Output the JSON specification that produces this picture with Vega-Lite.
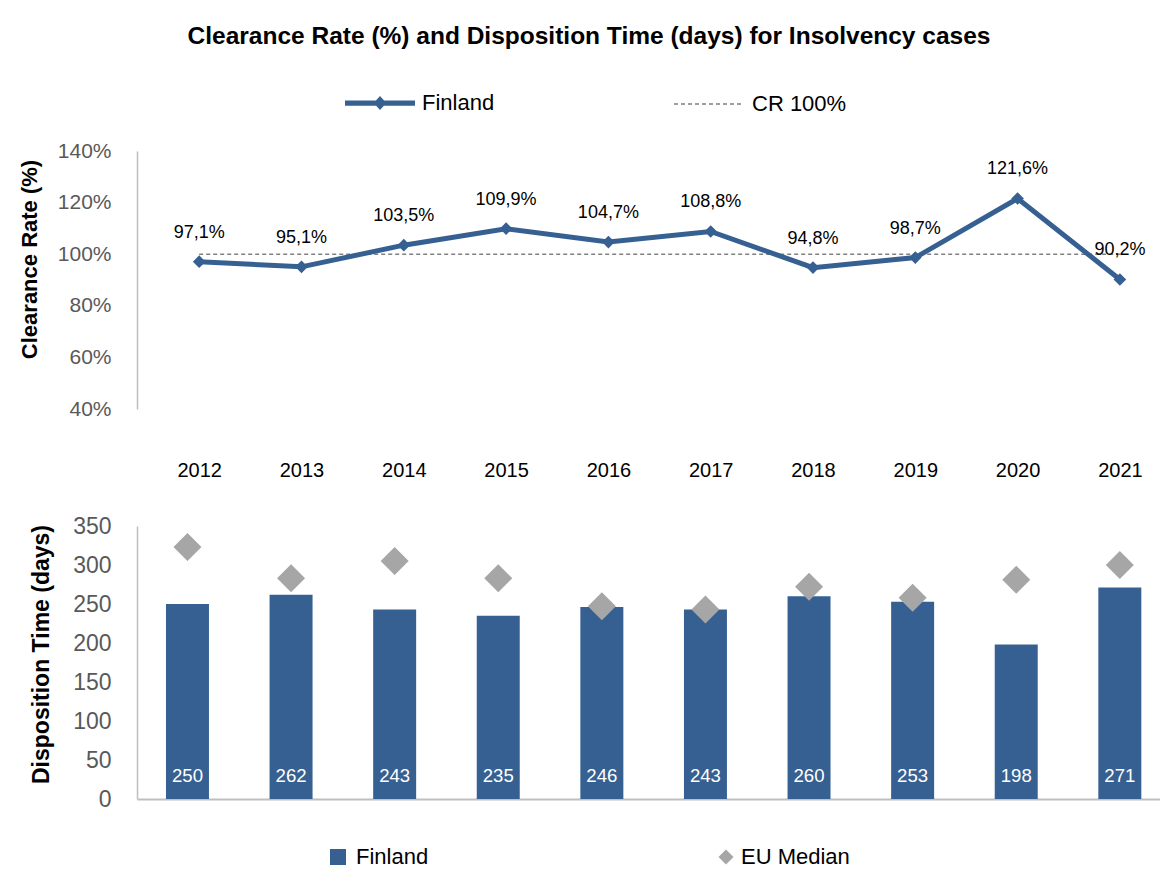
{
  "$schema": "https://vega.github.io/schema/vega-lite/v6.json",
  "padding": {"left": 18, "top": 23, "right": 0, "bottom": 0},
  "title": {"text": "Clearance Rate (%) and Disposition Time (days) for Insolvency cases", "fontSize": 24.5, "fontWeight": "bold", "font": "Liberation Sans", "color": "#000000", "anchor": "middle", "offset": 19},
  "config": {
    "font": "Liberation Sans",
    "view": {"stroke": null},
    "locale": {"number": {"decimal": ",", "thousands": ".", "grouping": [3], "currency": ["", " €"]}}
  },
  "bounds": "flush",
  "spacing": 117,
  "datasets": {
    "d": [
      {"year": "2012", "clearance": 0.971, "cr": 1, "dt": 250, "eu": 323},
      {"year": "2013", "clearance": 0.951, "cr": 1, "dt": 262, "eu": 283},
      {"year": "2014", "clearance": 1.035, "cr": 1, "dt": 243, "eu": 305},
      {"year": "2015", "clearance": 1.099, "cr": 1, "dt": 235, "eu": 283},
      {"year": "2016", "clearance": 1.047, "cr": 1, "dt": 246, "eu": 247},
      {"year": "2017", "clearance": 1.088, "cr": 1, "dt": 243, "eu": 243},
      {"year": "2018", "clearance": 0.948, "cr": 1, "dt": 260, "eu": 272},
      {"year": "2019", "clearance": 0.987, "cr": 1, "dt": 253, "eu": 258},
      {"year": "2020", "clearance": 1.216, "cr": 1, "dt": 198, "eu": 281},
      {"year": "2021", "clearance": 0.902, "cr": 1, "dt": 271, "eu": 300}
    ]
  },
  "resolve": {"scale": {"color": "independent"}, "legend": {"color": "independent"}},
  "vconcat": [
    {
      "width": 1023,
      "height": 258,
      "data": {"name": "d"},
      "resolve": {"scale": {"color": "independent"}, "legend": {"color": "independent"}},
      "layer": [
        {
          "mark": {"type": "line", "strokeDash": [4, 3], "strokeWidth": 1.5},
          "encoding": {
            "x": {"field": "year", "type": "ordinal", "scale": {"paddingInner": 0.585, "paddingOuter": 0.23, "align": 0.608}, "axis": {"title": null, "domain": false, "ticks": false, "tickSize": 0, "labelAngle": 0, "labelPadding": 51, "labelFontSize": 20, "labelColor": "#000000", "labelBaseline": "top"}},
            "y": {"field": "cr", "type": "quantitative", "title": "Clearance Rate (%)", "scale": {"domain": [0.4, 1.4], "nice": false, "zero": false}, "axis": {"values": [0.4, 0.6, 0.8, 1.0, 1.2, 1.4], "format": ".0%", "labelOverlap": false, "grid": false, "ticks": false, "tickSize": 0, "domainColor": "#bfbfbf", "domainWidth": 1.5, "labelFontSize": 21, "labelColor": "#595959", "labelPadding": 26, "titleFontSize": 22, "titleFontWeight": "bold", "titleColor": "#000000", "titleX": -108, "titleY": 108, "titleAngle": 270, "titleAlign": "center", "titleBaseline": "middle"}},
            "color": {"datum": "CR 100%", "scale": {"range": ["#808080"]}, "legend": {"title": null, "orient": "none", "legendX": 536, "legendY": -82, "direction": "horizontal", "padding": 0, "symbolType": "stroke", "symbolSize": 4624, "symbolDash": [4, 3], "symbolStrokeWidth": 1.5, "symbolStrokeColor": "#808080", "labelFontSize": 22, "labelColor": "#000000", "labelOffset": 9}}
          }
        },
        {
          "mark": {"type": "line", "strokeWidth": 5},
          "encoding": {
            "x": {"field": "year", "type": "ordinal", "scale": {"paddingInner": 0.585, "paddingOuter": 0.23, "align": 0.608}, "axis": {"title": null, "domain": false, "ticks": false, "tickSize": 0, "labelAngle": 0, "labelPadding": 51, "labelFontSize": 20, "labelColor": "#000000", "labelBaseline": "top"}},
            "y": {"field": "clearance", "type": "quantitative", "title": "Clearance Rate (%)", "scale": {"domain": [0.4, 1.4], "nice": false, "zero": false}, "axis": {"values": [0.4, 0.6, 0.8, 1.0, 1.2, 1.4], "format": ".0%", "labelOverlap": false, "grid": false, "ticks": false, "tickSize": 0, "domainColor": "#bfbfbf", "domainWidth": 1.5, "labelFontSize": 21, "labelColor": "#595959", "labelPadding": 26, "titleFontSize": 22, "titleFontWeight": "bold", "titleColor": "#000000", "titleX": -108, "titleY": 108, "titleAngle": 270, "titleAlign": "center", "titleBaseline": "middle"}},
            "color": {"datum": "Finland", "scale": {"range": ["#366092"]}, "legend": {"title": null, "orient": "none", "legendX": 208, "legendY": -83, "direction": "horizontal", "padding": 0, "symbolType": "M-1,-0.075L1,-0.075L1,0.075L-1,0.075Z M-0.18,0L0,-0.2L0.18,0L0,0.2Z", "symbolSize": 4900, "symbolFillColor": "#366092", "symbolStrokeWidth": 0, "labelFontSize": 22, "labelColor": "#000000", "labelOffset": 7, "encode": {"symbols": {"update": {"fill": {"value": "#366092"}, "stroke": {"value": "transparent"}, "strokeWidth": {"value": 0}}}}}}
          }
        },
        {
          "mark": {"type": "point", "shape": "diamond", "filled": true, "size": 160, "color": "#366092", "opacity": 1},
          "encoding": {
            "x": {"field": "year", "type": "ordinal"},
            "y": {"field": "clearance", "type": "quantitative", "title": "Clearance Rate (%)"}
          }
        },
        {
          "mark": {"type": "text", "fontSize": 18, "color": "#000000", "baseline": "middle", "dy": -29},
          "encoding": {
            "x": {"field": "year", "type": "ordinal"},
            "y": {"field": "clearance", "type": "quantitative", "title": "Clearance Rate (%)"},
            "text": {"field": "clearance", "type": "quantitative", "format": ".1%"}
          }
        }
      ]
    },
    {
      "width": 1023,
      "height": 273,
      "data": {"name": "d"},
      "resolve": {"scale": {"color": "independent"}, "legend": {"color": "independent"}},
      "layer": [
        {
          "mark": {"type": "bar"},
          "encoding": {
            "x": {"field": "year", "type": "ordinal", "scale": {"paddingInner": 0.585, "paddingOuter": 0.23, "align": 0.608}, "axis": {"title": null, "labels": false, "ticks": false, "domainColor": "#bfbfbf", "domainWidth": 2}},
            "y": {"field": "dt", "type": "quantitative", "title": "Disposition Time (days)", "scale": {"domain": [0, 350], "nice": false}, "axis": {"values": [0, 50, 100, 150, 200, 250, 300, 350], "labelOverlap": false, "labelSeparation": 0, "grid": false, "ticks": false, "tickSize": 0, "domainColor": "#bfbfbf", "domainWidth": 1.5, "labelFontSize": 23, "labelColor": "#595959", "labelPadding": 26, "titleFontSize": 23, "titleFontWeight": "bold", "titleColor": "#000000", "titleX": -96, "titleY": 128, "titleAngle": 270, "titleAlign": "center", "titleBaseline": "middle"}},
            "color": {"datum": "Finland", "scale": {"range": ["#366092"]}, "legend": {"title": null, "orient": "none", "legendX": 190, "legendY": 320, "direction": "horizontal", "padding": 0, "symbolType": "square", "symbolSize": 256, "symbolStrokeWidth": 0, "labelFontSize": 22, "labelColor": "#000000", "labelOffset": 7}}
          }
        },
        {
          "mark": {"type": "point", "shape": "diamond", "filled": true, "size": 784, "opacity": 1},
          "encoding": {
            "x": {"field": "year", "type": "ordinal", "scale": {"paddingInner": 0.585, "paddingOuter": 0.23, "align": 0.608}, "axis": {"title": null, "labels": false, "ticks": false, "domainColor": "#bfbfbf", "domainWidth": 2}},
            "y": {"field": "eu", "type": "quantitative", "title": "Disposition Time (days)", "scale": {"domain": [0, 350], "nice": false}, "axis": {"values": [0, 50, 100, 150, 200, 250, 300, 350], "labelOverlap": false, "labelSeparation": 0, "grid": false, "ticks": false, "tickSize": 0, "domainColor": "#bfbfbf", "domainWidth": 1.5, "labelFontSize": 23, "labelColor": "#595959", "labelPadding": 26, "titleFontSize": 23, "titleFontWeight": "bold", "titleColor": "#000000", "titleX": -96, "titleY": 128, "titleAngle": 270, "titleAlign": "center", "titleBaseline": "middle"}},
            "color": {"datum": "EU Median", "scale": {"range": ["#a6a6a6"]}, "legend": {"title": null, "orient": "none", "legendX": 578, "legendY": 320, "direction": "horizontal", "padding": 0, "symbolType": "diamond", "symbolSize": 225, "symbolStrokeWidth": 0, "labelFontSize": 22, "labelColor": "#000000", "labelOffset": 4}}
          }
        },
        {
          "mark": {"type": "text", "fontSize": 18.6, "color": "#ffffff", "baseline": "middle", "dy": -23},
          "encoding": {
            "x": {"field": "year", "type": "ordinal", "scale": {"paddingInner": 0.585, "paddingOuter": 0.23, "align": 0.608}, "axis": {"title": null, "labels": false, "ticks": false, "domainColor": "#bfbfbf", "domainWidth": 2}},
            "y": {"datum": 0, "type": "quantitative", "title": "Disposition Time (days)", "scale": {"domain": [0, 350], "nice": false}, "axis": {"values": [0, 50, 100, 150, 200, 250, 300, 350], "labelOverlap": false, "labelSeparation": 0, "grid": false, "ticks": false, "tickSize": 0, "domainColor": "#bfbfbf", "domainWidth": 1.5, "labelFontSize": 23, "labelColor": "#595959", "labelPadding": 26, "titleFontSize": 23, "titleFontWeight": "bold", "titleColor": "#000000", "titleX": -96, "titleY": 128, "titleAngle": 270, "titleAlign": "center", "titleBaseline": "middle"}},
            "text": {"field": "dt", "type": "quantitative"}
          }
        }
      ]
    }
  ]
}
